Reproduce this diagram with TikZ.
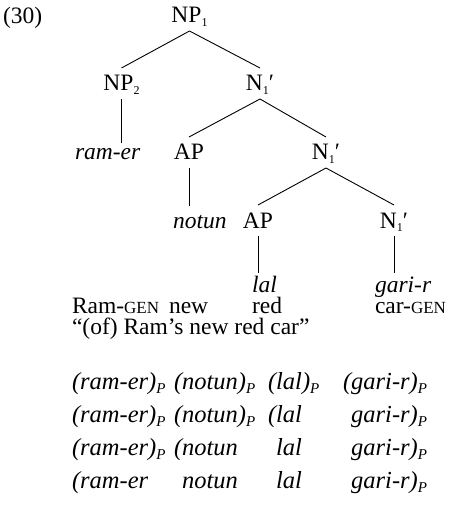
\documentclass[tikz,border=0pt]{standalone}
\usepackage{fontspec}
\setmainfont{Liberation Serif}
\newcommand\ssub[1]{\raisebox{-3.5pt}{\fontsize{12}{12}\selectfont #1}}
\newcommand\psub{\raisebox{-4pt}{\fontsize{15}{15}\selectfont\itshape P}}
\newcommand\fsc[1]{{\fontsize{17}{17}\selectfont #1}}
\newcommand\nbar{N\ssub{1}′}
\begin{document}
\begin{tikzpicture}[x=1pt,y=-1pt,
  every node/.style={inner sep=0pt,outer sep=0pt,font=\fontsize{23.5}{27}\selectfont},
  cat/.style={anchor=base,text height=23pt,text depth=8pt},
  leaf/.style={anchor=base west,text height=19pt,font=\fontsize{23.5}{27}\selectfont\itshape},
  gl/.style={anchor=base west},
  rw/.style={anchor=base west,font=\fontsize{24.5}{28}\selectfont\itshape},
  rp/.style={anchor=base east,font=\fontsize{24.5}{28}\selectfont\itshape},
  br/.style={line width=0.9pt}]
\useasboundingbox (0,0) rectangle (451,505);
% tree
\node[gl] (ex) at (3,24) {(30)};
\node[cat] (np1) at (189.5,23) {NP\ssub{1}};
\node[cat] (np2) at (121.5,91) {NP\ssub{2}};
\node[cat] (nb1) at (260,91) {\nbar};
\node[leaf,text height=17pt] (ramer) at (75,160) {ram-er};
\node[cat] (ap1) at (189,160) {AP};
\node[cat] (nb2) at (326,160) {\nbar};
\node[leaf,text height=22pt] (notun) at (173,228) {notun};
\node[cat] (ap2) at (258,228) {AP};
\node[cat] (nb3) at (394,228) {\nbar};
\node[leaf] (lal) at (252,292) {lal};
\node[leaf] (garir) at (375,292) {gari-r};
\draw[br] (np1.south) -- (np2.north);
\draw[br] (np1.south) -- (nb1.north);
\draw[br] (np2.south) -- (np2.south |- ramer.north);
\draw[br] (nb1.south) -- (ap1.north);
\draw[br] (nb1.south) -- (nb2.north);
\draw[br] (ap1.south) -- (ap1.south |- notun.north);
\draw[br] (nb2.south) -- (ap2.north);
\draw[br] (nb2.south) -- (nb3.north);
\draw[br] (ap2.south) -- (ap2.south |- lal.north);
\draw[br] (nb3.south) -- (nb3.south |- garir.north);
% gloss
\node[gl] (g1) at (72,313) {Ram-\fsc{GEN}};
\node[gl] (g2) at ([xshift=-4pt]notun.base west |- 0,313) {new};
\node[gl] (g3) at (lal.base west |- 0,313) {red};
\node[gl] (g4) at (garir.base west |- 0,313) {car-\fsc{GEN}};
\node[gl] (tr) at (72,334) {“(of) Ram’s new red car”};
% row 1
\node[rw] (o1a) at (72,389) {(};
\node[rw] (w1a) at (o1a.base east) {ram-er};
\node[rw] (c1a) at (w1a.base east) {)\psub};
\node[rw] (o1b) at (174,389) {(};
\node[rw] (w1b) at (o1b.base east) {notun};
\node[rw] (c1b) at (w1b.base east) {)\psub};
\node[rw] (o1c) at (268,389) {(};
\node[rw] (w1c) at (o1c.base east) {lal};
\node[rw] (c1c) at (w1c.base east) {)\psub};
\node[rw] (o1d) at (343,389) {(};
\node[rw] (w1d) at (o1d.base east) {gari-r};
\node[rw] (c1d) at (w1d.base east) {)\psub};
% row 2
\node[rw] (w2a) at (w1a.base west |- 0,422) {ram-er};
\node[rp] (o2a) at (w2a.base west) {(};
\node[rw] (c2a) at (w2a.base east) {)\psub};
\node[rw] (w2b) at (w1b.base west |- 0,422) {notun};
\node[rp] (o2b) at (w2b.base west) {(};
\node[rw] (c2b) at (w2b.base east) {)\psub};
\node[rw] (w2c) at (w1c.base west |- 0,422) {lal};
\node[rp] (o2c) at (w2c.base west) {(};
\node[rw] (w2d) at (w1d.base west |- 0,422) {gari-r};
\node[rw] (c2d) at (w2d.base east) {)\psub};
% row 3
\node[rw] (w3a) at (w1a.base west |- 0,455) {ram-er};
\node[rp] (o3a) at (w3a.base west) {(};
\node[rw] (c3a) at (w3a.base east) {)\psub};
\node[rw] (w3b) at (w1b.base west |- 0,455) {notun};
\node[rp] (o3b) at (w3b.base west) {(};
\node[rw] (w3c) at (w1c.base west |- 0,455) {lal};
\node[rw] (w3d) at (w1d.base west |- 0,455) {gari-r};
\node[rw] (c3d) at (w3d.base east) {)\psub};
% row 4
\node[rw] (w4a) at (w1a.base west |- 0,488) {ram-er};
\node[rp] (o4a) at (w4a.base west) {(};
\node[rw] (w4b) at (w1b.base west |- 0,488) {notun};
\node[rw] (w4c) at (w1c.base west |- 0,488) {lal};
\node[rw] (w4d) at (w1d.base west |- 0,488) {gari-r};
\node[rw] (c4d) at (w4d.base east) {)\psub};
\end{tikzpicture}
\end{document}
